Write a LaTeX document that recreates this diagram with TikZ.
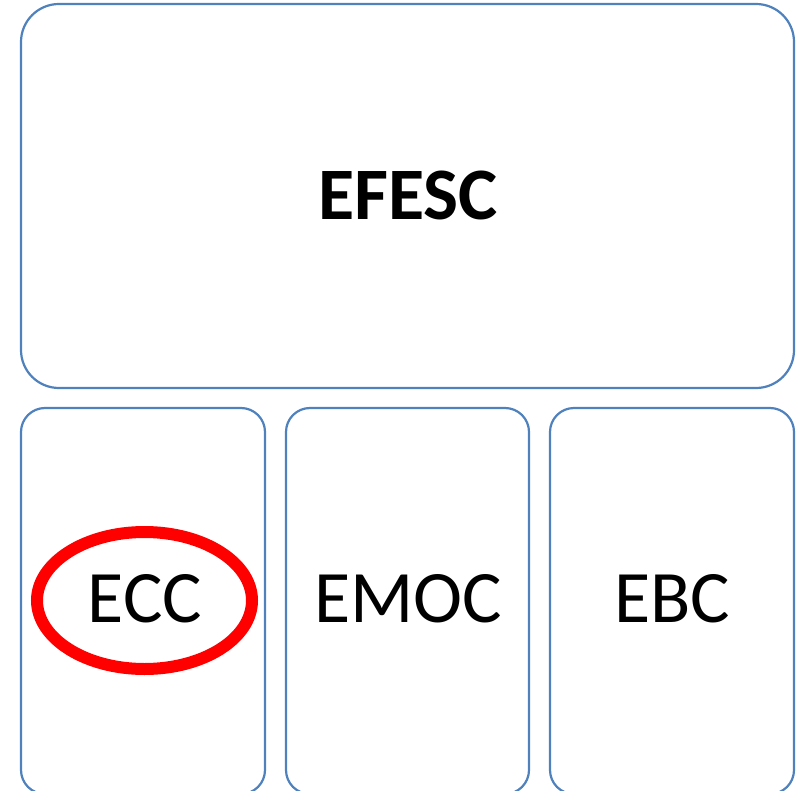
\documentclass[tikz,border=0pt]{standalone}
\usepackage{fontspec}
\setmainfont{Carlito}
\usetikzlibrary{shapes.geometric}
\definecolor{boxblue}{HTML}{4F81BD}
\begin{document}
\begin{tikzpicture}[x=1pt,y=-1pt,
  bigbox/.style={draw=boxblue,line width=2.2pt,rounded corners=38pt},
  smallbox/.style={draw=boxblue,line width=2.2pt,rounded corners=24pt},
  lbl/.style={font=\fontsize{74}{80}\selectfont,text=black},
  ring/.style={draw=red,line width=12pt,ellipse,minimum width=215pt,minimum height=137pt,inner sep=0pt}]
\useasboundingbox (0,0) rectangle (802,791);
\begin{scope}
\clip (0,0) rectangle (802,791);
\draw[bigbox] (21,4) rectangle (794,388);
\draw[smallbox] (21,408) rectangle (265,794);
\draw[smallbox] (286,408) rectangle (529,794);
\draw[smallbox] (550,408) rectangle (794,794);
\end{scope}
\node[lbl,font=\fontsize{74}{80}\selectfont\bfseries] (efesc) at (408,195) {EFESC};
\node[lbl] (ecc) at (145,599) {ECC};
\node[lbl] (emoc) at (408,599) {EMOC};
\node[lbl] (ebc) at (672,599) {EBC};
\node[ring] (ringecc) at (144.5,600.5) {};
\end{tikzpicture}
\end{document}
